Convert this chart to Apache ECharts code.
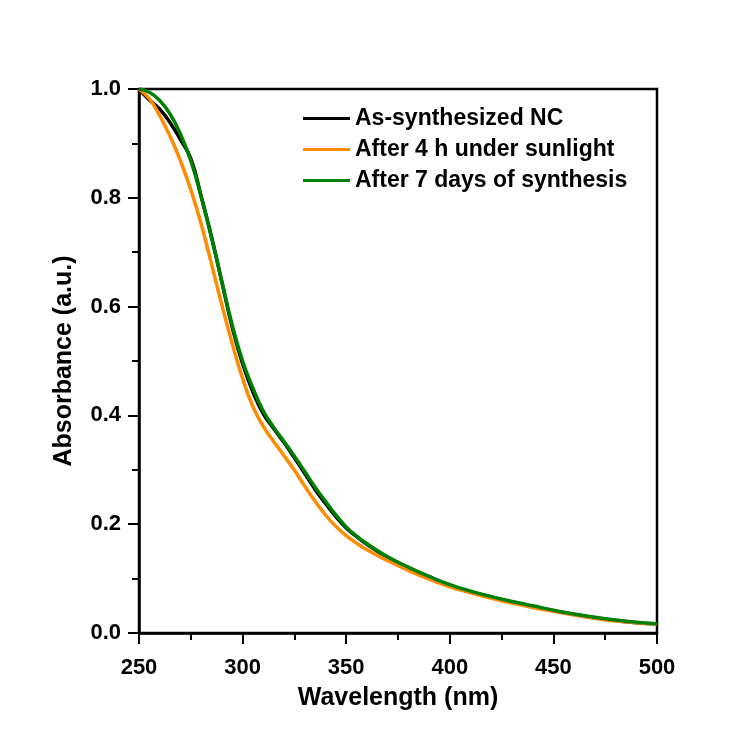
<!DOCTYPE html>
<html>
<head>
<meta charset="utf-8">
<script src="https://cdn.jsdelivr.net/npm/echarts@6/dist/echarts.min.js"></script>
<style>
  html, body { margin: 0; padding: 0; background: #ffffff; }
  #chart { width: 749px; height: 753px; }
</style>
</head>
<body>
<div id="chart"></div>
<script>
// wavelength (nm) sample points
const WAVELENGTH = [250, 255, 260, 265, 270, 275, 280, 285, 290, 295, 300, 305, 310, 315, 320, 325, 330, 335, 340, 345, 350, 355, 360, 370, 380, 390, 400, 410, 420, 430, 440, 450, 460, 470, 480, 490, 500];

const AS_SYNTH = [1.0, 0.98, 0.963, 0.938, 0.907, 0.872, 0.803, 0.728, 0.645, 0.562, 0.495, 0.443, 0.403, 0.376, 0.35, 0.322, 0.293, 0.264, 0.238, 0.214, 0.193, 0.177, 0.163, 0.139, 0.12, 0.103, 0.088, 0.076, 0.066, 0.057, 0.049, 0.041, 0.034, 0.028, 0.023, 0.019, 0.017];
const SUNLIGHT_4H = [1.0, 0.982, 0.951, 0.913, 0.868, 0.815, 0.752, 0.678, 0.603, 0.532, 0.468, 0.416, 0.38, 0.352, 0.326, 0.299, 0.27, 0.242, 0.217, 0.196, 0.179, 0.165, 0.153, 0.133, 0.115, 0.099, 0.085, 0.074, 0.064, 0.055, 0.047, 0.04, 0.033, 0.027, 0.022, 0.019, 0.016];
const DAYS_7 = [1.0, 0.994, 0.979, 0.954, 0.917, 0.868, 0.802, 0.727, 0.646, 0.566, 0.5, 0.45, 0.408, 0.378, 0.352, 0.325, 0.297, 0.268, 0.242, 0.217, 0.195, 0.178, 0.164, 0.14, 0.121, 0.104, 0.089, 0.077, 0.067, 0.058, 0.05, 0.042, 0.035, 0.029, 0.024, 0.02, 0.017];

const NAMES = ["As-synthesized NC", "After 4 h under sunlight", "After 7 days of synthesis"];
const COLORS = ["#000000", "#ff8c00", "#008000"];

const FONT = "'Liberation Sans', Arial, sans-serif";
const INK = "#000000";

const pairs = (ys) => WAVELENGTH.map((x, i) => [x, ys[i]]);

const chart = echarts.init(document.getElementById("chart"), null, { renderer: "canvas" });

const axisCommon = {
  axisLine: { show: true, lineStyle: { color: INK, width: 2.5 } },
  axisTick: { show: true, inside: false, length: 11, lineStyle: { color: INK, width: 2 } },
  minorTick: { show: true, splitNumber: 2, length: 7, lineStyle: { color: INK, width: 2 } },
  splitLine: { show: false },
  nameLocation: "middle",
  nameTextStyle: { color: INK, fontFamily: FONT, fontWeight: "bold", fontSize: 25 },
};

chart.setOption({
  backgroundColor: "#ffffff",
  animation: false,
  color: COLORS,
  grid: {
    left: 139, right: 92, top: 89, bottom: 120,
    show: true, borderColor: INK, borderWidth: 2.5, backgroundColor: "transparent",
  },
  legend: {
    data: NAMES,
    orient: "vertical",
    left: 298,
    top: 102,
    icon: "rect",
    itemWidth: 47,
    itemHeight: 3,
    itemGap: 8,
    textStyle: { color: INK, fontFamily: FONT, fontWeight: "bold", fontSize: 23, lineHeight: 22 },
  },
  xAxis: Object.assign({}, axisCommon, {
    type: "value",
    min: 250,
    max: 500,
    interval: 50,
    name: "Wavelength (nm)",
    nameGap: 53,
    axisLabel: { color: INK, fontFamily: FONT, fontWeight: "bold", fontSize: 22, margin: 24 },
  }),
  yAxis: Object.assign({}, axisCommon, {
    type: "value",
    min: 0,
    max: 1,
    interval: 0.2,
    name: "Absorbance (a.u.)",
    nameGap: 62,
    axisLabel: {
      color: INK, fontFamily: FONT, fontWeight: "bold", fontSize: 22, margin: 18,
      formatter: (v) => Number(v).toFixed(1),
    },
  }),
  series: [AS_SYNTH, SUNLIGHT_4H, DAYS_7].map((ys, i) => ({
    name: NAMES[i],
    type: "line",
    data: pairs(ys),
    showSymbol: false,
    smooth: 0.5,
    lineStyle: { width: 3.5, color: COLORS[i] },
    z: 2 + i,
  })),
});
</script>
</body>
</html>
